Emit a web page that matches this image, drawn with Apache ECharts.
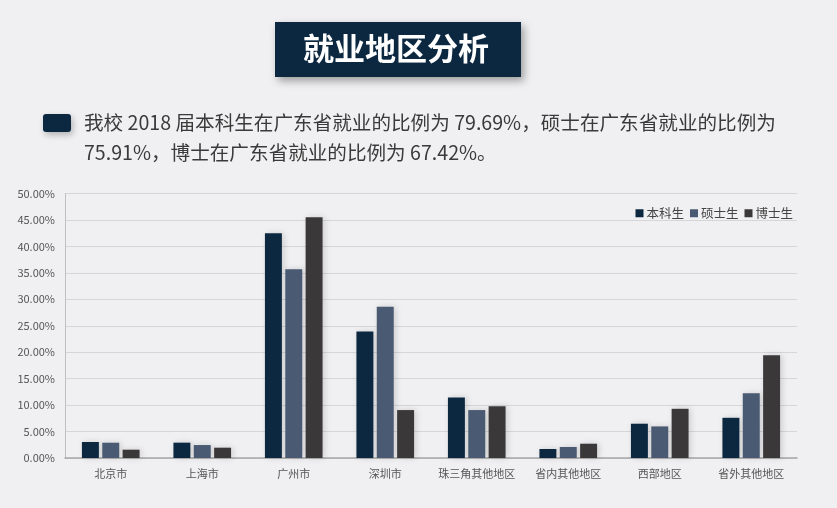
<!DOCTYPE html>
<html>
<head>
<meta charset="utf-8">
<script src="https://cdn.jsdelivr.net/npm/echarts@6/dist/echarts.min.js"></script>
<style>
html,body{margin:0;padding:0;background:#f0f0f2;}
#c{width:837px;height:508px;}
</style>
</head>
<body>
<div id="c"></div>
<script>
const categories = ['北京市','上海市','广州市','深圳市','珠三角其他地区','省内其他地区','西部地区','省外其他地区'];
const seriesNames = ['本科生','硕士生','博士生'];
const undergrad = [3.02, 2.90, 42.5, 23.9, 11.45, 1.70, 6.48, 7.60];
const master = [2.89, 2.45, 35.7, 28.6, 9.06, 2.08, 5.97, 12.26];
const doctor = [1.57, 1.95, 45.5, 9.06, 9.80, 2.70, 9.30, 19.43];
const colors = ['#0c2840', '#4a5a72', '#3b3839'];
const titleText = '就业地区分析';
const line1 = '我校 2018 届本科生在广东省就业的比例为 79.69%，硕士在广东省就业的比例为';
const line2 = '75.91%，博士在广东省就业的比例为 67.42%。';

const font = '"Noto Sans CJK SC", "Noto Sans", sans-serif';
const chart = echarts.init(document.getElementById('c'));
const values = [undergrad, master, doctor];
chart.setOption({
  backgroundColor: '#f0f0f2',
  textStyle: { fontFamily: font },
  graphic: [
    { type: 'rect', shape: { x: 275, y: 22, width: 246, height: 55 },
      style: { fill: '#0c2840', shadowBlur: 8, shadowOffsetX: 3, shadowOffsetY: 4, shadowColor: 'rgba(0,0,0,0.35)' } },
    { type: 'text', left: 303, top: 33,
      style: { text: titleText, fill: '#ffffff', font: 'bold 31px ' + font, textAlign: 'left' } },
    { type: 'rect', shape: { x: 43, y: 114, width: 28, height: 18, r: 3 },
      style: { fill: '#0c2840', shadowBlur: 6, shadowOffsetX: 2, shadowOffsetY: 3, shadowColor: 'rgba(0,0,0,0.25)' } },
    { type: 'text', left: 84, top: 113,
      style: { text: line1, fill: '#3a3a3a', font: '19.6px ' + font } },
    { type: 'text', left: 84, top: 143,
      style: { text: line2, fill: '#3a3a3a', font: '19.6px ' + font } }
  ],
  legend: {
    data: seriesNames,
    right: 39, top: 202,
    icon: 'rect', itemWidth: 8, itemHeight: 8, itemGap: 6,
    textStyle: { fontSize: 12.5, color: '#444', padding: [0, 0, 0, -2] }
  },
  grid: { left: 65, right: 40, top: 193.5, bottom: 50, containLabel: false },
  xAxis: {
    type: 'category', data: categories,
    axisLine: { lineStyle: { color: '#a6a6a6', width: 1.5 } },
    axisTick: { show: false },
    axisLabel: { fontSize: 11, color: '#555', margin: 10, interval: 0 }
  },
  yAxis: {
    type: 'value', min: 0, max: 50, interval: 5,
    axisLine: { show: true, lineStyle: { color: '#bfbfbf' } },
    axisTick: { show: false },
    splitLine: { lineStyle: { color: '#d6d6d8' } },
    axisLabel: { fontSize: 11, color: '#555', margin: 10, formatter: v => v.toFixed(2) + '%' }
  },
  series: seriesNames.map((n, i) => ({
    name: n, type: 'bar', data: values[i],
    barGap: '20%', barCategoryGap: '37%',
    itemStyle: { color: colors[i], shadowBlur: 6, shadowColor: 'rgba(0,0,0,0.15)', shadowOffsetX: 2 }
  }))
});
</script>
</body>
</html>
